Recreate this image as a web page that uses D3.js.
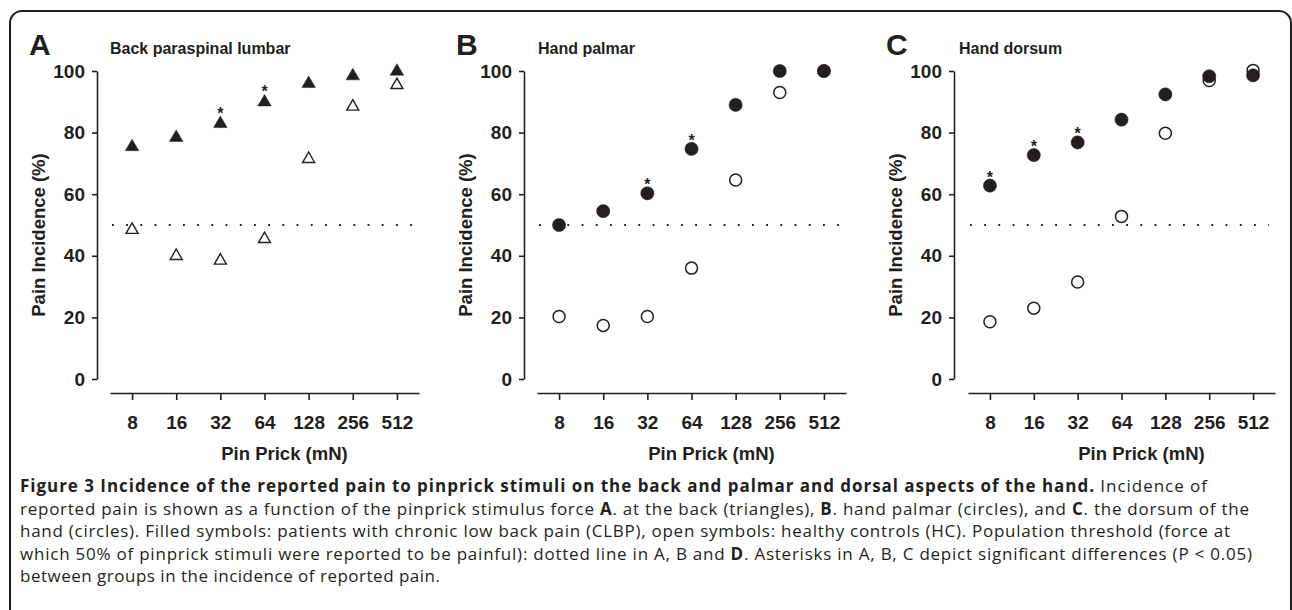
<!DOCTYPE html>
<html>
<head>
<meta charset="utf-8">
<script src="https://cdn.jsdelivr.net/npm/d3@7"></script>
<style>
  body { margin: 0; background: #fff; }
  svg { display: block; }
</style>
</head>
<body>
<div id="chart"></div>
<script>
// Stimulus forces (x categories) and y ticks
const forces = ["8", "16", "32", "64", "128", "256", "512"];
const yTicks = [0, 20, 40, 60, 80, 100];
const threshold = 50;

// Pain incidence (%)
const backCLBP   = [76, 79, 83.5, 90.5, 96.5, 99, 100.5];
const backHC     = [49, 40.5, 39, 46, 72, 89, 96];
const palmarCLBP = [50, 54.5, 60.3, 74.7, 89, 100, 100];
const palmarHC   = [20.3, 17.4, 20.3, 36, 64.6, 93, 100];
const dorsumCLBP = [62.8, 72.7, 76.8, 84.2, 92.4, 98.3, 98.6];
const dorsumHC   = [18.6, 23, 31.5, 52.8, 79.8, 96.9, 100.2];

// Forces with a significant difference (asterisks)
const backSig   = ["32", "64"];
const palmarSig = ["32", "64"];
const dorsumSig = ["8", "16", "32"];

const ink = "#231f20";

const svg = d3.select("#chart").append("svg")
    .attr("width", 1292)
    .attr("height", 610);

// outer frame (rounded, open at the bottom of the picture)
svg.append("rect")
    .attr("x", 10).attr("y", 11)
    .attr("width", 1281).attr("height", 700)
    .attr("rx", 12)
    .attr("fill", "none")
    .attr("stroke", ink)
    .attr("stroke-width", 2);

const panels = [
    { letter: "A", title: "Back paraspinal lumbar", axisX: 97, titleX: 110, xRange: [110, 419],
      filled: backCLBP, open: backHC, sig: backSig, shape: "triangle" },
    { letter: "B", title: "Hand palmar", axisX: 524, titleX: 538, xRange: [537, 846],
      filled: palmarCLBP, open: palmarHC, sig: palmarSig, shape: "circle" },
    { letter: "C", title: "Hand dorsum", axisX: 954, titleX: 959, xRange: [968, 1275],
      filled: dorsumCLBP, open: dorsumHC, sig: dorsumSig, shape: "circle" }
];

const y = d3.scaleLinear().domain([0, 100]).range([379, 71]);
const xAxisY = 393;

// triangle with its bounding box centred on the point
function triPath(w, h) {
    return `M0,${-h / 2}L${w / 2},${h / 2}L${-w / 2},${h / 2}Z`;
}

panels.forEach(p => {
    const x = d3.scalePoint().domain(forces).range(p.xRange).padding(0.5);
    const g = svg.append("g");

    // panel letter + title
    g.append("text")
        .attr("x", p.axisX - 68).attr("y", 55)
        .attr("font-family", "Liberation Sans, Arial, sans-serif")
        .attr("font-weight", "bold")
        .attr("font-size", "30px")
        .attr("fill", ink)
        .text(p.letter);

    g.append("text")
        .attr("x", p.titleX).attr("y", 53.5)
        .attr("font-family", "Liberation Sans, Arial, sans-serif")
        .attr("font-weight", "bold")
        .attr("font-size", "16px")
        .attr("fill", ink)
        .text(p.title);

    // y axis
    const yAx = g.append("g")
        .attr("transform", `translate(${p.axisX},0)`)
        .call(d3.axisLeft(y).tickValues(yTicks).tickSize(5).tickSizeOuter(0).tickPadding(7));

    // x axis
    const xAx = g.append("g")
        .attr("transform", `translate(0,${xAxisY})`)
        .call(d3.axisBottom(x).tickSize(7).tickSizeOuter(0).tickPadding(16));

    [yAx, xAx].forEach(ax => {
        ax.select(".domain").attr("stroke", ink).attr("stroke-width", 1.6);
        ax.selectAll(".tick line").attr("stroke", ink).attr("stroke-width", 1.6);
        ax.selectAll(".tick text")
            .attr("fill", ink)
            .attr("font-family", "Liberation Sans, Arial, sans-serif")
            .attr("font-weight", "bold")
            .attr("font-size", "19px");
    });

    // axis titles
    g.append("text")
        .attr("transform", `translate(${p.axisX - 52},235) rotate(-90)`)
        .attr("text-anchor", "middle")
        .attr("font-family", "Liberation Sans, Arial, sans-serif")
        .attr("font-weight", "bold")
        .attr("font-size", "18.5px")
        .attr("fill", ink)
        .text("Pain Incidence (%)");

    g.append("text")
        .attr("x", (p.xRange[0] + p.xRange[1]) / 2 + 20)
        .attr("y", 460)
        .attr("text-anchor", "middle")
        .attr("font-family", "Liberation Sans, Arial, sans-serif")
        .attr("font-weight", "bold")
        .attr("font-size", "18.5px")
        .attr("fill", ink)
        .text("Pin Prick (mN)");

    // 50% threshold, dotted
    g.append("line")
        .attr("x1", p.xRange[0] + 2).attr("x2", p.xRange[1] - 6)
        .attr("y1", y(threshold)).attr("y2", y(threshold))
        .attr("stroke", ink)
        .attr("stroke-width", 1.8)
        .attr("stroke-dasharray", "1.8,12.4");

    // healthy controls (open) drawn first, patients (filled) on top
    const pts = g.append("g");
    const drawSeries = (vals, filled) => {
        vals.forEach((v, i) => {
            if (p.shape === "triangle") {
                pts.append("path")
                    .attr("d", filled ? triPath(13.5, 11.5) : triPath(12, 10.5))
                    .attr("transform", `translate(${x(forces[i])},${y(v)})`)
                    .attr("fill", filled ? ink : "#fff")
                    .attr("stroke", ink)
                    .attr("stroke-width", filled ? 0.5 : 1.4)
                    .attr("stroke-linejoin", "miter");
            } else {
                pts.append("circle")
                    .attr("cx", x(forces[i])).attr("cy", y(v))
                    .attr("r", filled ? 6.6 : 6)
                    .attr("fill", filled ? ink : "#fff")
                    .attr("stroke", ink)
                    .attr("stroke-width", filled ? 0.5 : 1.5);
            }
        });
    };
    drawSeries(p.open, false);
    drawSeries(p.filled, true);

    // significance asterisks above the filled symbols
    p.sig.forEach(f => {
        const i = forces.indexOf(f);
        g.append("text")
            .attr("x", x(f)).attr("y", y(p.filled[i]) - 3)
            .attr("text-anchor", "middle")
            .attr("font-family", "Liberation Sans, Arial, sans-serif")
            .attr("font-weight", "bold")
            .attr("font-size", "16px")
            .attr("fill", ink)
            .text("*");
    });
});

// caption
const captionLines = [
    [["Figure 3 Incidence of the reported pain to pinprick stimuli on the back and palmar and dorsal aspects of the hand.", true], [" Incidence of", false]],
    [["reported pain is shown as a function of the pinprick stimulus force ", false], ["A", true], [". at the back (triangles), ", false], ["B", true], [". hand palmar (circles), and ", false], ["C", true], [". the dorsum of the", false]],
    [["hand (circles). Filled symbols: patients with chronic low back pain (CLBP), open symbols: healthy controls (HC). Population threshold (force at", false]],
    [["which 50% of pinprick stimuli were reported to be painful): dotted line in A, B and ", false], ["D", true], [". Asterisks in A, B, C depict significant differences (P < 0.05)", false]],
    [["between groups in the incidence of reported pain.", false]]
];
const captionWidths = [1187, 1229, 1210, 1232, 420];

captionLines.forEach((line, li) => {
    const t = svg.append("text")
        .attr("x", 20)
        .attr("y", 492 + li * 22.5)
        .attr("font-family", "Open Sans, Noto Sans, sans-serif")
        .attr("font-size", "17px")
        .attr("fill", ink);
    line.forEach(([s, bold]) => {
        t.append("tspan")
            .attr("font-weight", bold ? 700 : 400)
            .text(s);
    });
    t.attr("textLength", captionWidths[li]).attr("lengthAdjust", "spacing");
});
</script>
</body>
</html>
